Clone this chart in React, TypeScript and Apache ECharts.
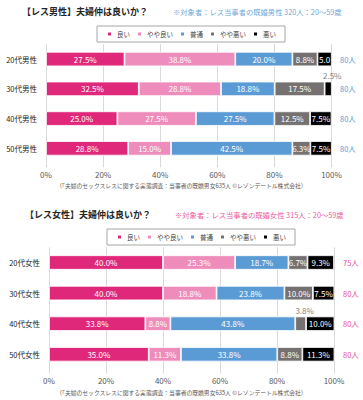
import React, { useEffect, useRef } from 'react';
import * as echarts from 'echarts';

const levels = ['良い', 'やや良い', '普通', 'やや悪い', '悪い'];
const levelColors = ['#E0287A', '#EE8DBB', '#5B9BD5', '#767171', '#000000'];

const maleCategories = ['20代男性', '30代男性', '40代男性', '50代男性'];
const maleCounts = ['80人', '80人', '80人', '80人'];
const maleGood = [27.5, 32.5, 25.0, 28.8];
const maleFairlyGood = [38.8, 28.8, 27.5, 15.0];
const maleNormal = [20.0, 18.8, 27.5, 42.5];
const maleFairlyBad = [8.8, 17.5, 12.5, 6.3];
const maleBad = [5.0, 2.5, 7.5, 7.5];

const femaleCategories = ['20代女性', '30代女性', '40代女性', '50代女性'];
const femaleCounts = ['75人', '80人', '80人', '80人'];
const femaleGood = [40.0, 40.0, 33.8, 35.0];
const femaleFairlyGood = [25.3, 18.8, 8.8, 11.3];
const femaleNormal = [18.7, 23.8, 43.8, 33.8];
const femaleFairlyBad = [6.7, 10.0, 3.8, 8.8];
const femaleBad = [9.3, 7.5, 10.0, 11.3];

const maleTitle = '【レス男性】夫婦仲は良いか？';
const maleSubtitle = '※対象者：レス当事者の既婚男性 320人：20～59歳';
const femaleTitle = '【レス女性】夫婦仲は良いか？';
const femaleSubtitle = '※対象者：レス当事者の既婚女性 315人：20～59歳';
const sourceText = '（「夫婦のセックスレスに関する実態調査：当事者の既婚男女635人 ©レゾンデートル株式会社）';

const FONT = '"Noto Sans CJK JP", "Noto Sans", sans-serif';

function makeSeries(values: number[], idx: number, stack: string, xIdx: number, yIdx: number) {
  return {
    type: 'bar',
    name: levels[idx],
    stack,
    xAxisIndex: xIdx,
    yAxisIndex: yIdx,
    barWidth: 14.5,
    itemStyle: { color: levelColors[idx], borderColor: '#ffffff', borderWidth: 0.8 },
    label: {
      show: true,
      position: 'inside',
      color: '#ffffff',
      fontSize: 8,
      fontFamily: FONT,
      formatter: (p: any) => {
        const v = p.value as number;
        return v >= 4 && v < 6 ? v.toFixed(1) : v.toFixed(1) + '%';
      },
    },
    data: values.map((v) =>
      v < 4
        ? { value: v, label: { position: 'top', color: '#7f7f7f', distance: 2, offset: [4, 0] } }
        : v
    ),
  };
}

export default function App() {
  const ref = useRef<HTMLDivElement>(null);
  useEffect(() => {
    if (!ref.current) return;
    const chart = echarts.init(ref.current, undefined, { renderer: 'svg' });
    const xAxisBase = {
      type: 'value',
      min: 0,
      max: 100,
      interval: 20,
      axisLine: { show: false },
      axisTick: { show: true, length: 4, lineStyle: { color: '#d9d9d9' } },
      splitLine: { show: true, lineStyle: { color: '#d9d9d9', width: 1 } },
      axisLabel: { formatter: '{value}%', color: '#595959', fontSize: 8, fontFamily: FONT, margin: 7 },
    };
    const catAxis = (gridIndex: number, data: string[], right: boolean, color: string, margin: number) => ({
      type: 'category',
      gridIndex,
      data,
      inverse: true,
      position: right ? 'right' : 'left',
      axisLine: { show: false },
      axisTick: { show: false },
      axisLabel: {
        color,
        fontSize: right ? 7.5 : 7.5,
        fontFamily: FONT,
        margin,
        align: right ? 'left' : 'right',
      },
    });
    const legendBase = {
      data: levels,
      icon: 'rect',
      itemWidth: 5,
      itemHeight: 5,
      itemGap: 6,
      padding: [4.5, 9],
      borderColor: '#a6a6a6',
      borderWidth: 1,
      textStyle: { fontSize: 6.5, color: '#404040', fontFamily: FONT },
      selectedMode: false,
    };
    chart.setOption({
      animation: false,
      backgroundColor: '#ffffff',
      color: levelColors,
      title: [
        { text: maleTitle, left: 22, top: 6.5, padding: 0, textStyle: { fontSize: 9, fontWeight: 'bold', color: '#262626', fontFamily: FONT } },
        { text: maleSubtitle, left: 173, top: 8, padding: 0, textStyle: { fontSize: 7.3, fontWeight: 'normal', color: '#6FA8DC', fontFamily: FONT } },
        { text: femaleTitle, left: 25, top: 209.5, padding: 0, textStyle: { fontSize: 9, fontWeight: 'bold', color: '#262626', fontFamily: FONT } },
        { text: femaleSubtitle, left: 175, top: 211, padding: 0, textStyle: { fontSize: 7.3, fontWeight: 'normal', color: '#EE5AA0', fontFamily: FONT } },
      ],
      legend: [
        { ...legendBase, left: 97, top: 26 },
        { ...legendBase, left: 107, top: 229 },
      ],
      grid: [
        { left: 46, right: 31.5, top: 44.2, height: 119, containLabel: false },
        { left: 49, right: 29, top: 247.2, height: 122.4, containLabel: false },
      ],
      xAxis: [
        { ...xAxisBase, gridIndex: 0 },
        { ...xAxisBase, gridIndex: 1 },
      ],
      yAxis: [
        catAxis(0, maleCategories, false, '#262626', 9),
        catAxis(0, maleCounts, true, '#5B9BD5', 8.5),
        catAxis(1, femaleCategories, false, '#262626', 9),
        catAxis(1, femaleCounts, true, '#E8559A', 9),
      ],
      graphic: [
        { type: 'text', left: 'center', top: 182.5, style: { text: sourceText, fontSize: 5.8, fill: '#595959', fontFamily: FONT } },
        { type: 'text', left: 'center', top: 390, style: { text: sourceText, fontSize: 5.8, fill: '#595959', fontFamily: FONT } },
      ],
      series: [
        makeSeries(maleGood, 0, 'm', 0, 0),
        makeSeries(maleFairlyGood, 1, 'm', 0, 0),
        makeSeries(maleNormal, 2, 'm', 0, 0),
        makeSeries(maleFairlyBad, 3, 'm', 0, 0),
        makeSeries(maleBad, 4, 'm', 0, 0),
        makeSeries(femaleGood, 0, 'f', 1, 2),
        makeSeries(femaleFairlyGood, 1, 'f', 1, 2),
        makeSeries(femaleNormal, 2, 'f', 1, 2),
        makeSeries(femaleFairlyBad, 3, 'f', 1, 2),
        makeSeries(femaleBad, 4, 'f', 1, 2),
      ],
    });
    return () => chart.dispose();
  }, []);
  return <div ref={ref} style={{ position: 'fixed', left: 0, top: 0, width: 363, height: 400 }} />;
}
